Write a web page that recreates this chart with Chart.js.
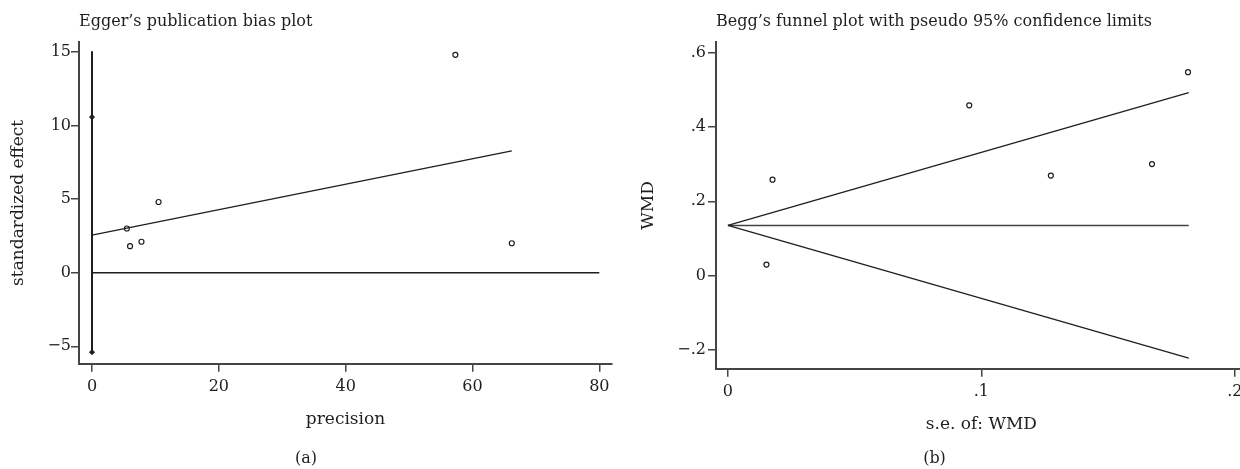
<!DOCTYPE html>
<html>
<head>
<meta charset="utf-8">
<script src="https://cdn.jsdelivr.net/npm/chart.js@4/dist/chart.umd.min.js"></script>
<style>
  html, body { margin: 0; padding: 0; background: #fff; overflow: hidden; }
  #wrap { position: relative; width: 1240px; height: 469px; overflow: hidden; }
  canvas { position: absolute; top: 0; }
  #eggerChart { left: 0; }
  #beggChart { left: 620px; }
</style>
</head>
<body>
<div id="wrap">
  <canvas id="eggerChart" width="620" height="469"></canvas>
  <canvas id="beggChart" width="632" height="469"></canvas>
</div>
<script>
// (a) Egger's plot
const eggerPrecision = [5.5, 6.0, 7.8, 10.5, 57.3, 66.2];
const eggerEffect = [3.0, 1.8, 2.1, 4.8, 14.8, 2.0];
const eggerFitX = [0, 66.2];
const eggerFitY = [2.55, 8.28];
const eggerCiY = [-5.4, 15.05];
const eggerMarkY = [10.57, -5.4];
const eggerZeroX = [0, 80];
const eggerXTicks = [0, 20, 40, 60, 80];
const eggerYTicks = [-5, 0, 5, 10, 15];

// (b) Begg's funnel
const beggSe = [0.0152, 0.0176, 0.0952, 0.1274, 0.1673, 0.1815];
const beggWmd = [0.030, 0.258, 0.458, 0.269, 0.300, 0.547];
const beggLimitSe = [0, 0.1818];
const beggUpper = [0.135, 0.492];
const beggLower = [0.135, -0.221];
const beggPooled = [0.135, 0.135];
const beggXTicks = [0, 0.1, 0.2];
const beggYTicks = [-0.2, 0, 0.2, 0.4, 0.6];

const FONT = 'DejaVu Serif';
const INK = '#1e1e1e';
const AXIS = '#444';

Chart.defaults.font.family = FONT;
Chart.defaults.color = INK;

function pts(xs, ys) {
  return xs.map((x, i) => ({ x: x, y: ys[i] }));
}

function fmtMinus(v) {
  return String(v).replace('-', '\u2212');
}

function fmtDecimal(v) {
  if (v === 0) return '0';
  let s = String(Math.round(v * 10) / 10).replace('0.', '.');
  return s.replace('-', '\u2212');
}

function lineSet(data, width, color) {
  return {
    data: data, showLine: true, pointRadius: 0, borderColor: color || INK,
    borderWidth: width, fill: false, tension: 0
  };
}

function dotSet(data) {
  return {
    data: data, showLine: false, pointRadius: 2.5, pointBorderWidth: 1.2,
    borderColor: INK, backgroundColor: '#fff', pointStyle: 'circle'
  };
}

function axis(opts) {
  return {
    type: 'linear',
    min: opts.min, max: opts.max,
    afterBuildTicks: s => { s.ticks = opts.ticks.map(v => ({ value: v })); },
    afterFit: s => {
      if (opts.width) s.width = opts.width;
      if (opts.height) s.height = opts.height;
    },
    grid: {
      display: true, drawOnChartArea: false, drawTicks: true,
      tickLength: 8, color: AXIS, lineWidth: 1.5
    },
    border: { display: true, color: AXIS, width: 2 },
    ticks: {
      font: { size: 16 }, color: INK, padding: opts.tickPad,
      callback: opts.fmt, maxRotation: 0, autoSkip: false
    },
    title: {
      display: true, text: opts.title, color: INK,
      font: { size: 17 }, padding: opts.titlePad
    }
  };
}

function makeChart(id, cfg) {
  return new Chart(document.getElementById(id), {
    type: 'scatter',
    data: { datasets: cfg.datasets },
    options: {
      responsive: false, animation: false,
      layout: { padding: { top: 0, bottom: 0, left: 0, right: cfg.padRight } },
      plugins: {
        legend: { display: false },
        tooltip: { enabled: false },
        title: {
          display: true, text: cfg.title, align: 'start', fullSize: false,
          color: INK, font: { size: 16, weight: 'normal' },
          padding: { top: 12, bottom: 10.8 }
        },
        subtitle: {
          display: true, text: cfg.caption, position: 'bottom',
          color: INK, font: { size: 16, weight: 'normal' },
          padding: { top: 0, bottom: 1 }
        }
      },
      scales: { x: cfg.x, y: cfg.y }
    }
  });
}

makeChart('eggerChart', {
  title: 'Egger\u2019s publication bias plot',
  caption: '(a)',
  padRight: 8,
  datasets: [
    lineSet(pts([0, 0], eggerCiY), 2, INK),
    lineSet(pts(eggerZeroX, [0, 0]), 1.5, INK),
    lineSet(pts(eggerFitX, eggerFitY), 1.3, INK),
    {
      data: pts([0, 0], eggerMarkY), showLine: false, pointStyle: 'rectRot',
      pointRadius: 2.5, backgroundColor: INK, borderColor: INK, borderWidth: 1
    },
    dotSet(pts(eggerPrecision, eggerEffect))
  ],
  x: axis({
    min: -2.05, max: 82.0, ticks: eggerXTicks, fmt: v => fmtMinus(v),
    height: 85, tickPad: 5, title: 'precision', titlePad: { top: 0, bottom: 19 }
  }),
  y: axis({
    min: -6.19, max: 15.67, ticks: eggerYTicks, fmt: v => fmtMinus(v),
    width: 79, tickPad: 0, title: 'standardized effect', titlePad: { top: 8, bottom: 0 }
  })
});

makeChart('beggChart', {
  title: 'Begg\u2019s funnel plot with pseudo 95% confidence limits',
  caption: '(b)',
  padRight: 3,
  datasets: [
    lineSet(pts(beggLimitSe, beggUpper), 1.3, INK),
    lineSet(pts(beggLimitSe, beggLower), 1.3, INK),
    lineSet(pts(beggLimitSe, beggPooled), 1.5, AXIS),
    dotSet(pts(beggSe, beggWmd))
  ],
  x: axis({
    min: -0.0047, max: 0.2047, ticks: beggXTicks, fmt: v => fmtDecimal(v),
    height: 80, tickPad: 5, title: 's.e. of: WMD', titlePad: { top: 0, bottom: 14 }
  }),
  y: axis({
    min: -0.25, max: 0.628, ticks: beggYTicks, fmt: v => fmtDecimal(v),
    width: 96, tickPad: 2, title: 'WMD', titlePad: { top: 18, bottom: 0 }
  })
});
</script>
</body>
</html>
